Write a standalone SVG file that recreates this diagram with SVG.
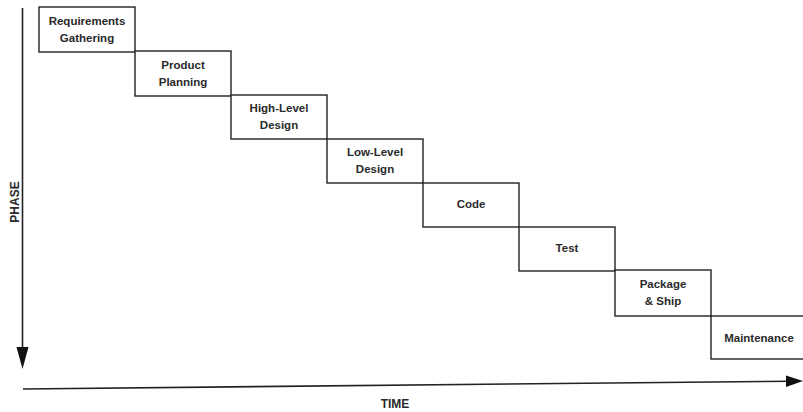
<svg xmlns="http://www.w3.org/2000/svg" width="803" height="412" viewBox="0 0 803 412">
<style>
.box{fill:#fff;stroke:#222;stroke-width:1.4}
.lbl{font-family:"Liberation Sans",Arial,sans-serif;font-size:11.5px;font-weight:bold;fill:#2a2a2a;text-anchor:middle}
.axis{stroke:#222;stroke-width:1.6;fill:none}
.ah{fill:#111}
</style>
<rect width="803" height="412" fill="#fff"/>
<g id="connectors">
<line class="axis" x1="22.5" y1="8" x2="22.5" y2="350"/>
<polygon class="ah" points="16.5,347 28.5,347 22.5,369"/>
<line class="axis" x1="23" y1="389" x2="790" y2="381.2"/>
<polygon class="ah" points="786,375.5 803,381 786,387"/>
<text class="lbl" transform="translate(19,202) rotate(-90)" style="font-size:12px">PHASE</text>
<text class="lbl" x="395" y="408" style="font-size:12px">TIME</text>
</g>
<g id="n1"><rect class="box" x="39" y="7" width="96" height="45"/><text class="lbl" x="87" y="25">Requirements</text><text class="lbl" x="87" y="42">Gathering</text></g>
<g id="n2"><rect class="box" x="135" y="51" width="96" height="45"/><text class="lbl" x="183" y="69">Product</text><text class="lbl" x="183" y="86">Planning</text></g>
<g id="n3"><rect class="box" x="231" y="95" width="96" height="44"/><text class="lbl" x="279" y="112">High-Level</text><text class="lbl" x="279" y="129">Design</text></g>
<g id="n4"><rect class="box" x="327" y="139" width="96" height="44"/><text class="lbl" x="375" y="156">Low-Level</text><text class="lbl" x="375" y="173">Design</text></g>
<g id="n5"><rect class="box" x="423" y="183" width="96" height="44"/><text class="lbl" x="471" y="208">Code</text></g>
<g id="n6"><rect class="box" x="519" y="227" width="96" height="44"/><text class="lbl" x="567" y="252">Test</text></g>
<g id="n7"><rect class="box" x="615" y="270" width="96" height="46"/><text class="lbl" x="663" y="288">Package</text><text class="lbl" x="663" y="305">&amp; Ship</text></g>
<g id="n8"><rect class="box" x="711" y="316" width="96" height="43"/><text class="lbl" x="759" y="342">Maintenance</text></g>
</svg>
